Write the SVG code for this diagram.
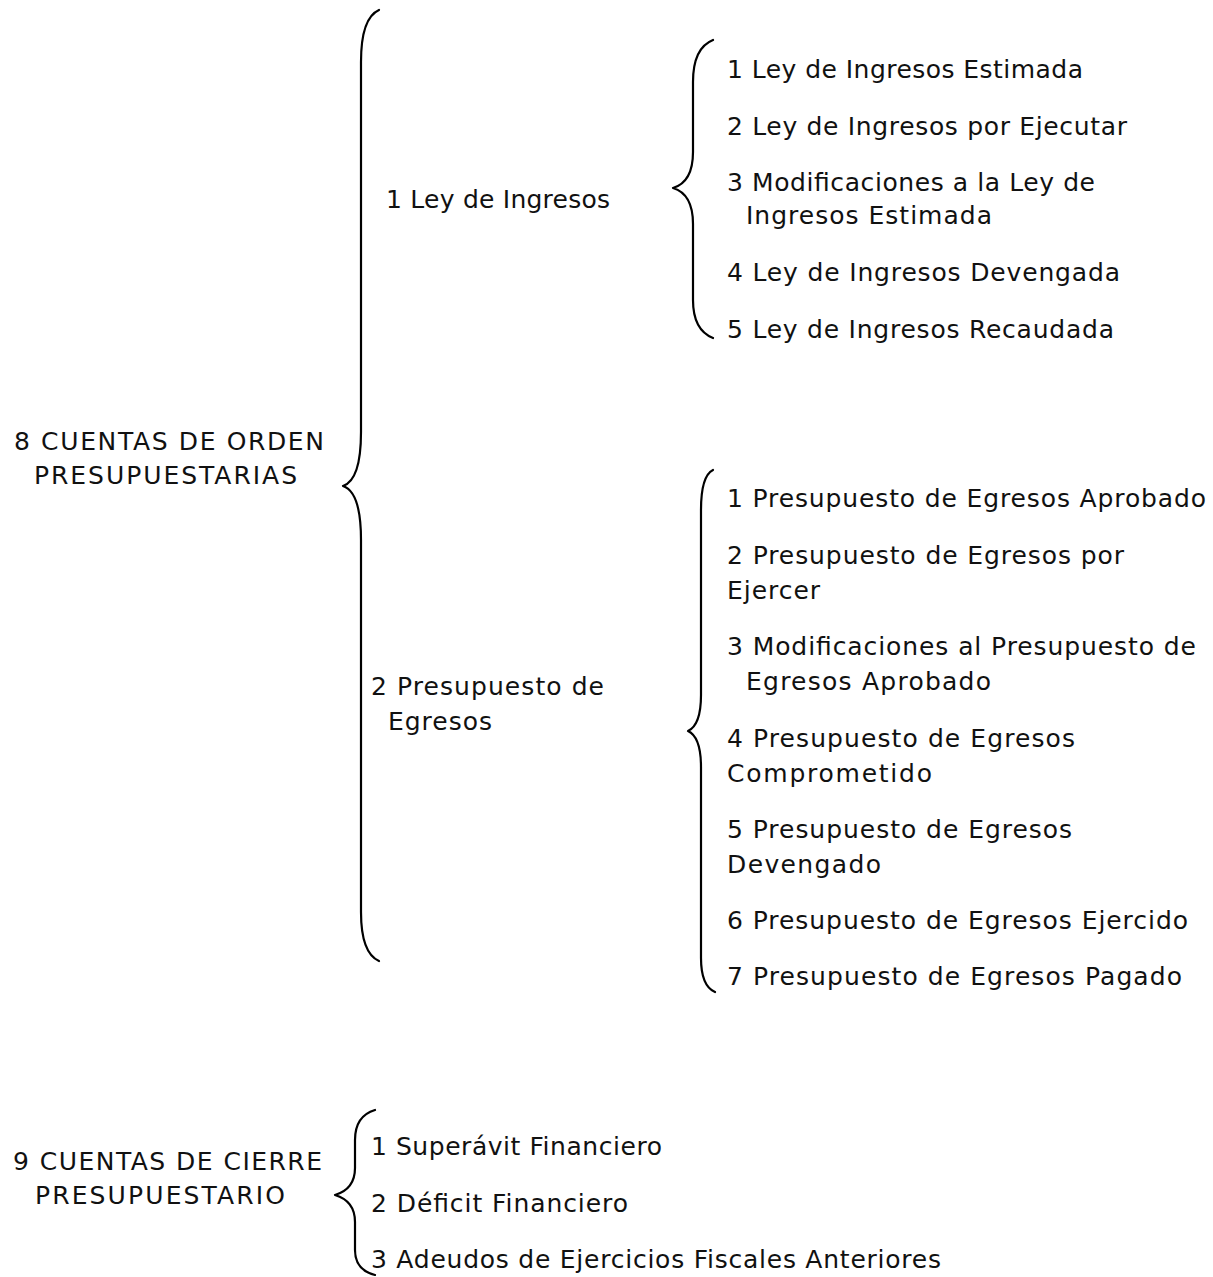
<svg xmlns="http://www.w3.org/2000/svg" width="1213" height="1277" viewBox="0 0 1213 1277">
<style>
text{font-family:"DejaVu Sans","Liberation Sans",sans-serif;font-size:25px;fill:#111;}
.h{font-size:25px;}
.b{fill:none;stroke:#000;stroke-width:2.2;stroke-linecap:round;stroke-linejoin:round;}
</style>
<rect width="1213" height="1277" fill="#fff"/>
<g id="connectors">
<path class="b" d="M379,10 Q361,18 361,62 L361,432 Q361,480 343,486 Q361,492 361,540 L361,912 Q361,953 379,961"/>
<path class="b" d="M713,40 Q693,48 693,82 L693,152 Q693,182 673,188 Q693,194 693,224 L693,300 Q693,330 713,338"/>
<path class="b" d="M713,470 Q701,476 701,510 L701,695 Q701,725 688,731 Q701,737 701,767 L701,958 Q701,986 715,992"/>
<path class="b" d="M375,1110 Q355,1116 355,1140 L355,1168 Q355,1189 335,1195 Q355,1201 355,1222 L355,1250 Q355,1270 375,1275"/>
</g>
<g id="n8">
<text class="h" x="14" y="450" textLength="310">8 CUENTAS DE ORDEN</text>
<text class="h" x="34" y="484" textLength="263">PRESUPUESTARIAS</text>
</g>
<g id="n81">
<text x="386" y="208" textLength="224">1 Ley de Ingresos</text>
</g>
<g id="n82">
<text x="371" y="695" textLength="233">2 Presupuesto de</text>
<text x="388" y="730" textLength="104">Egresos</text>
</g>
<g id="n811"><text x="727" y="78" textLength="356">1 Ley de Ingresos Estimada</text></g>
<g id="n812"><text x="727" y="135" textLength="400">2 Ley de Ingresos por Ejecutar</text></g>
<g id="n813">
<text x="727" y="191" textLength="368">3 Modificaciones a la Ley de</text>
<text x="746" y="224" textLength="246">Ingresos Estimada</text>
</g>
<g id="n814"><text x="727" y="281" textLength="393">4 Ley de Ingresos Devengada</text></g>
<g id="n815"><text x="727" y="338" textLength="387">5 Ley de Ingresos Recaudada</text></g>
<g id="n821"><text x="727" y="507" textLength="479">1 Presupuesto de Egresos Aprobado</text></g>
<g id="n822">
<text x="727" y="564" textLength="397">2 Presupuesto de Egresos por</text>
<text x="727" y="599" textLength="93">Ejercer</text>
</g>
<g id="n823">
<text x="727" y="655" textLength="469">3 Modificaciones al Presupuesto de</text>
<text x="746" y="690" textLength="245">Egresos Aprobado</text>
</g>
<g id="n824">
<text x="727" y="747" textLength="348">4 Presupuesto de Egresos</text>
<text x="727" y="782" textLength="205">Comprometido</text>
</g>
<g id="n825">
<text x="727" y="838" textLength="345">5 Presupuesto de Egresos</text>
<text x="727" y="873" textLength="154">Devengado</text>
</g>
<g id="n826"><text x="727" y="929" textLength="461">6 Presupuesto de Egresos Ejercido</text></g>
<g id="n827"><text x="727" y="985" textLength="455">7 Presupuesto de Egresos Pagado</text></g>
<g id="n9">
<text class="h" x="13" y="1170" textLength="309">9 CUENTAS DE CIERRE</text>
<text class="h" x="35" y="1204" textLength="250">PRESUPUESTARIO</text>
</g>
<g id="n91"><text x="371" y="1155" textLength="291">1 Superávit Financiero</text></g>
<g id="n92"><text x="371" y="1212" textLength="257">2 Déficit Financiero</text></g>
<g id="n93"><text x="371" y="1268" textLength="570">3 Adeudos de Ejercicios Fiscales Anteriores</text></g>
</svg>
